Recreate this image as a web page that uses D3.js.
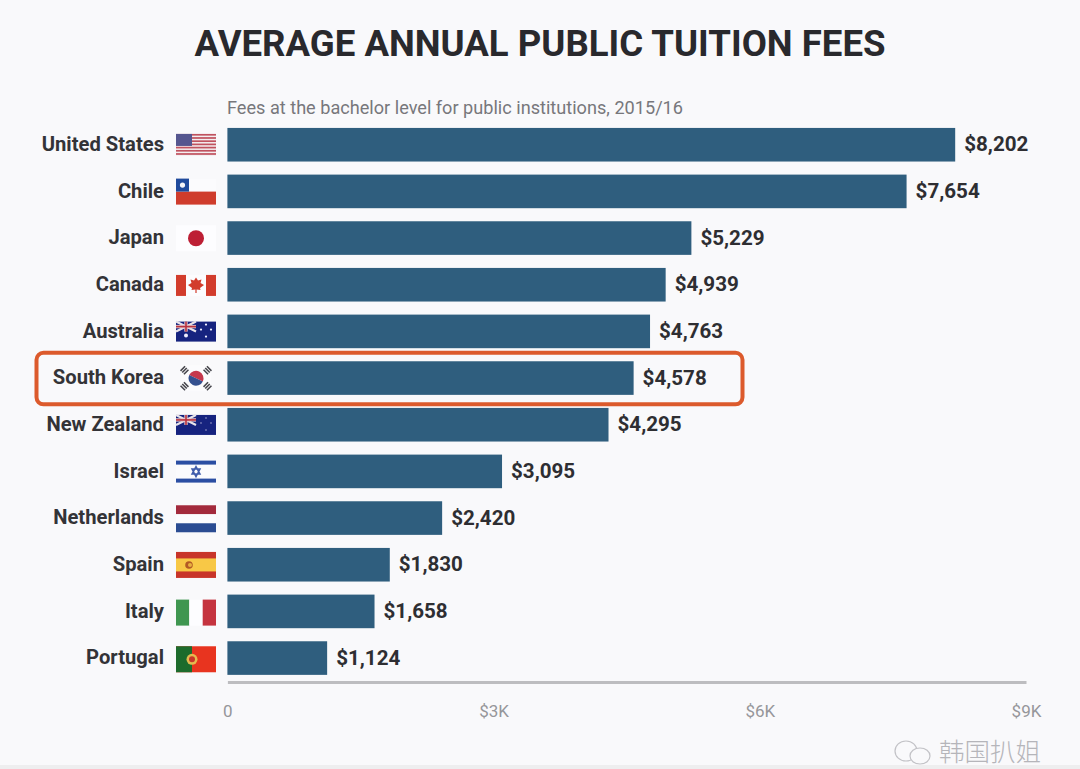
<!DOCTYPE html>
<html><head><meta charset="utf-8">
<script src="https://cdn.jsdelivr.net/npm/d3@7/dist/d3.min.js"></script>
<style>html,body{margin:0;padding:0;background:#f9f9fb}svg{display:block;font-family:Roboto,sans-serif}</style>
</head><body><div id="c"></div>
<script>
const countries=["United States","Chile","Japan","Canada","Australia","South Korea","New Zealand","Israel","Netherlands","Spain","Italy","Portugal"];
const fees=[8202,7654,5229,4939,4763,4578,4295,3095,2420,1830,1658,1124];
const flagCodes=["us","cl","jp","ca","au","kr","nz","il","nl","es","it","pt"];
const ticks=[0,3000,6000,9000];
const tickLabels=["0","$3K","$6K","$9K"];
const W=1080,H=769;
const svg=d3.select("#c").append("svg").attr("width",W).attr("height",H);
svg.append("rect").attr("width",W).attr("height",H).attr("fill","#f9f9fb");
svg.append("rect").attr("y",765).attr("width",W).attr("height",4).attr("fill","#eeeeef");
const x=d3.scaleLinear().domain([0,9000]).range([227.4,1026]);
const y=d3.scaleBand().domain(countries).range([121.4,681.4]).paddingInner(0.28).paddingOuter(0.14);

svg.append("text").attr("x",540).attr("y",56).attr("text-anchor","middle")
 .attr("font-size",36.5).attr("font-weight",700).attr("fill","#29292d").attr("textLength",691).attr("lengthAdjust","spacingAndGlyphs").text("AVERAGE ANNUAL PUBLIC TUITION FEES");
svg.append("text").attr("x",227).attr("y",114).attr("font-size",17.5).attr("fill","#77777b").attr("textLength",456).attr("lengthAdjust","spacingAndGlyphs")
 .text("Fees at the bachelor level for public institutions, 2015/16");

svg.append("g").selectAll("rect").data(countries).join("rect")
 .attr("x",x(0)).attr("y",d=>y(d)).attr("height",y.bandwidth())
 .attr("width",(d,i)=>x(fees[i])-x(0)).attr("fill","#2f5e7e");

svg.append("g").selectAll("text").data(countries).join("text")
 .attr("x",(d,i)=>x(fees[i])+9).attr("y",d=>y(d)+y.bandwidth()/2+6.5)
 .attr("font-size",20.6).attr("font-weight",700).attr("fill","#2e2e32")
 .text((d,i)=>"$"+d3.format(",")(fees[i]));

svg.append("g").selectAll("text").data(countries).join("text")
 .attr("x",164).attr("y",d=>y(d)+y.bandwidth()/2+6.2)
 .attr("text-anchor","end").attr("font-size",20.2).attr("font-weight",700).attr("fill","#333337").text(d=>d);

// axis
const ax=svg.append("g").attr("transform","translate(0,682)")
 .call(d3.axisBottom(x).tickValues(ticks).tickFormat((d,i)=>tickLabels[i]).tickSize(0).tickPadding(23));
ax.select(".domain").attr("stroke","#bdbdc0").attr("stroke-width",3);
ax.selectAll("text").attr("font-size",17).attr("fill","#96969a").attr("font-family","Roboto,sans-serif");

// highlight
const k=y("South Korea");
svg.append("rect").attr("x",36.5).attr("y",k-8.4).attr("width",706).attr("height",51.5).attr("rx",7)
 .attr("fill","none").attr("stroke","#dc5a2c").attr("stroke-width",4);

// flags in a 40x34 local box
function flag(g,code){
 const r=(X,Y,w,h,f)=>g.append("rect").attr("x",X).attr("y",Y).attr("width",w).attr("height",h).attr("fill",f);
 const c=(X,Y,R,f)=>g.append("circle").attr("cx",X).attr("cy",Y).attr("r",R).attr("fill",f);
 const ukJack=(w,h)=>{
  g.append("path").attr("d",`M0 7L${w} ${7+h}M${w} 7L0 ${7+h}`).attr("stroke","#e8e4ea").attr("stroke-width",2.2);
  r(0,7+h/2-1.7,w,3.4,"#e2c4ca"); r(w/2-1.7,7,3.4,h,"#e2c4ca");
  r(0,7+h/2-.8,w,1.6,"#b8323f"); r(w/2-.8,7,1.6,h,"#b8323f");
 };
 if(code==="us"){
  r(0,6,40,22,"#f4eef0");
  for(let i=0;i<7;i++) r(0,6+i*3.2,40,1.7,"#c0525f");
  r(0,6,16,12,"#55568f");
 } else if(code==="cl"){
  r(0,4,40,13,"#fbfbfd"); r(0,17,40,13,"#cf3c2c"); r(0,4,13,13,"#1f4a9c"); c(6.5,10.5,2.6,"#f4f4f8");
 } else if(code==="jp"){
  r(0,4,40,26,"#fdfdff"); c(20,17,8,"#bd1f35");
 } else if(code==="ca"){
  r(0,7,40,21,"#fcfcfe"); r(0,7,10,21,"#d23c2c"); r(30,7,10,21,"#d23c2c");
  g.append("path").attr("d","M20 9.5L22 12.5L25.5 11.5L24.5 15L28 17L24 20L24.5 22L20.6 21.5V25H19.4V21.5L15.5 22L16 20L12 17L15.5 15L14.5 11.5L18 12.5Z").attr("fill","#d23c2c");
 } else if(code==="au"||code==="nz"){
  r(0,7,40,20,"#16237f"); ukJack(20,10);
  [[30,10],[35,15],[25,15],[30,22]].forEach(p=>c(p[0],p[1],code==="au"?1.1:.8,code==="au"?"#eef":"#a6a6d0"));
  if(code==="au") c(10,21,2,"#eef");
 } else if(code==="kr"){
  r(5,4,30,26,"#fbfbfd");
  g.append("g").attr("transform","rotate(25 20 17)").call(t=>{
   t.append("path").attr("d","M12.5 17A7.5 7.5 0 0 1 27.5 17Z").attr("fill","#c5384d");
   t.append("path").attr("d","M12.5 17A7.5 7.5 0 0 0 27.5 17Z").attr("fill","#34508f");
  });
  [[8.5,9,-45],[31.5,9,45],[8.5,25,45],[31.5,25,-45]].forEach(p=>{
   const t=g.append("g").attr("transform",`rotate(${p[2]} ${p[0]} ${p[1]})`);
   [-2.4,0,2.4].forEach(o=>t.append("rect").attr("x",p[0]-3.2).attr("y",p[1]+o-.8).attr("width",6.4).attr("height",1.6).attr("fill","#47474d"));
  });
 } else if(code==="il"){
  r(0,5,40,24,"#fbfbfd"); r(0,6,40,4,"#2b4ea3"); r(0,24,40,4,"#2b4ea3");
  g.append("path").attr("d","M20 12L24 19.5H16ZM20 22L16 14.5H24Z").attr("fill","none").attr("stroke","#3f5cab").attr("stroke-width",1.5);
 } else if(code==="nl"){
  r(0,4,40,9,"#a32a3c"); r(0,13,40,9,"#fbfbfd"); r(0,22,40,9,"#2b4c92");
 } else if(code==="es"){
  r(0,4,40,26,"#c8352a"); r(0,10.5,40,13,"#f8c846"); c(13,17,3.8,"#b35a24"); c(14,17,2,"#e8b040");
 } else if(code==="it"){
  r(0,5,13.3,26,"#3f9650"); r(13.3,5,13.4,26,"#fdfdff"); r(26.7,5,13.3,26,"#c5343f");
 } else if(code==="pt"){
  r(0,5,40,26,"#e8341f"); r(0,5,16,26,"#1d6b2c"); c(16,18,5.5,"#e5b94e"); c(16,18,3,"#c8352a");
 }
}
svg.append("g").selectAll("g").data(countries).join("g")
 .attr("transform",d=>`translate(176,${y(d)})`)
 .each(function(d,i){flag(d3.select(this),flagCodes[i]);});

// watermark
const wm=svg.append("g").attr("opacity",.8);
wm.append("text").attr("x",939).attr("y",761).attr("font-family","'Noto Sans CJK SC'").attr("font-size",25.5).attr("font-weight",300).attr("fill","#a5a5aa").text("韩国扒姐");
wm.append("g").attr("fill","none").attr("stroke","#b5b5ba").attr("stroke-width",1.2).call(g=>{
 g.append("ellipse").attr("cx",906).attr("cy",751).attr("rx",11).attr("ry",10);
 g.append("ellipse").attr("cx",920).attr("cy",756).attr("rx",10).attr("ry",8).attr("fill","#f9f9fb");
});
</script></body></html>
